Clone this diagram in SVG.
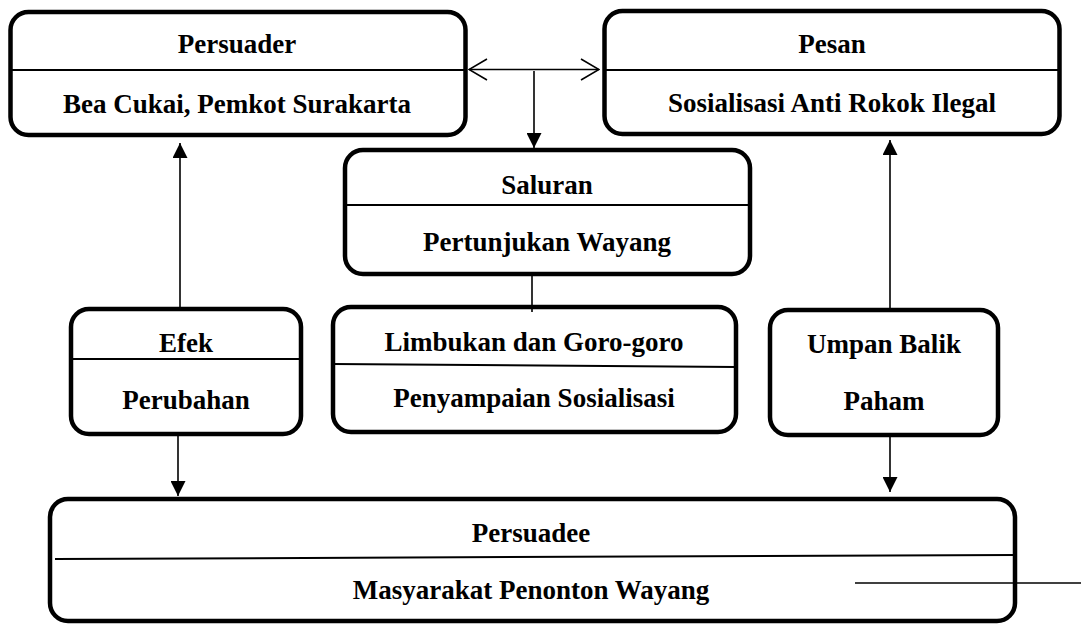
<svg xmlns="http://www.w3.org/2000/svg" width="1081" height="624" viewBox="0 0 1081 624">
<defs>
<style>
.box{fill:#fff;stroke:#000;stroke-width:4.5}
.div{stroke:#000;stroke-width:2;fill:none}
.con{stroke:#000;stroke-width:1.6;fill:none}
text{font-family:'Liberation Serif','DejaVu Serif',serif;font-weight:bold;font-size:27px;text-anchor:middle;fill:#000}
</style>
<marker id="open" viewBox="0 0 20 24" refX="19" refY="12" markerWidth="20" markerHeight="24" markerUnits="userSpaceOnUse" orient="auto-start-reverse">
<path d="M1,1.5 L19,12 L1,22.5" fill="none" stroke="#000" stroke-width="1.6"/>
</marker>
<marker id="fill" viewBox="0 0 15 15" refX="15" refY="7.5" markerWidth="15" markerHeight="15" markerUnits="userSpaceOnUse" orient="auto">
<path d="M0,0 L15,7.5 L0,15 Z" fill="#000"/>
</marker>
</defs>
<rect width="1081" height="624" fill="#fff"/>
<g id="persuader">
<rect class="box" x="10.5" y="12" width="455" height="123" rx="18"/>
<line class="div" x1="10" y1="70" x2="466" y2="70"/>
<text x="237" y="53" font-family="Liberation Serif">Persuader</text>
<text x="237" y="113" font-family="Liberation Serif">Bea Cukai, Pemkot Surakarta</text>
</g>
<g id="pesan">
<rect class="box" x="604.5" y="11" width="455" height="123" rx="18"/>
<line class="div" x1="604" y1="70" x2="1060" y2="70"/>
<text x="832" y="53" font-family="Liberation Serif">Pesan</text>
<text x="832" y="112" font-family="Liberation Serif">Sosialisasi Anti Rokok Ilegal</text>
</g>
<g id="saluran">
<rect class="box" x="345" y="150" width="405" height="124" rx="18"/>
<line class="div" x1="345" y1="205" x2="750" y2="205"/>
<text x="547" y="194" font-family="Liberation Serif">Saluran</text>
<text x="547" y="251" font-family="Liberation Serif">Pertunjukan Wayang</text>
</g>
<g id="efek">
<rect class="box" x="71" y="309" width="230" height="125" rx="18"/>
<line class="div" x1="71" y1="359" x2="301" y2="359"/>
<text x="186" y="352" font-family="Liberation Serif">Efek</text>
<text x="186" y="409" font-family="Liberation Serif">Perubahan</text>
</g>
<g id="limbukan">
<rect class="box" x="333" y="307" width="403" height="125" rx="18"/>
<line class="div" x1="333" y1="364" x2="736" y2="367"/>
<text x="534" y="351" font-family="Liberation Serif">Limbukan dan Goro-goro</text>
<text x="534" y="407" font-family="Liberation Serif">Penyampaian Sosialisasi</text>
</g>
<g id="umpan">
<rect class="box" x="770" y="310" width="228" height="125" rx="18"/>
<text x="884" y="353" font-family="Liberation Serif">Umpan Balik</text>
<text x="884" y="410" font-family="Liberation Serif">Paham</text>
</g>
<g id="persuadee">
<rect class="box" x="50" y="499" width="965" height="122" rx="18"/>
<line class="div" x1="55" y1="559" x2="1015" y2="555"/>
<text x="531" y="542" font-family="Liberation Serif">Persuadee</text>
<text x="531" y="599" font-family="Liberation Serif">Masyarakat Penonton Wayang</text>
</g>
<g id="connectors">
<line class="con" x1="469" y1="69.5" x2="599" y2="69.5" marker-start="url(#open)" marker-end="url(#open)"/>
<line class="con" x1="534" y1="71" x2="534" y2="148" marker-end="url(#fill)"/>
<line class="con" x1="532" y1="276" x2="532" y2="312"/>
<line class="con" x1="180" y1="307" x2="180" y2="143" marker-end="url(#fill)"/>
<line class="con" x1="178" y1="436" x2="178" y2="496" marker-end="url(#fill)"/>
<line class="con" x1="890" y1="308" x2="890" y2="140" marker-end="url(#fill)"/>
<line class="con" x1="890" y1="437" x2="890" y2="492" marker-end="url(#fill)"/>
<line class="con" x1="855" y1="583" x2="1081" y2="583"/>
</g>
</svg>
